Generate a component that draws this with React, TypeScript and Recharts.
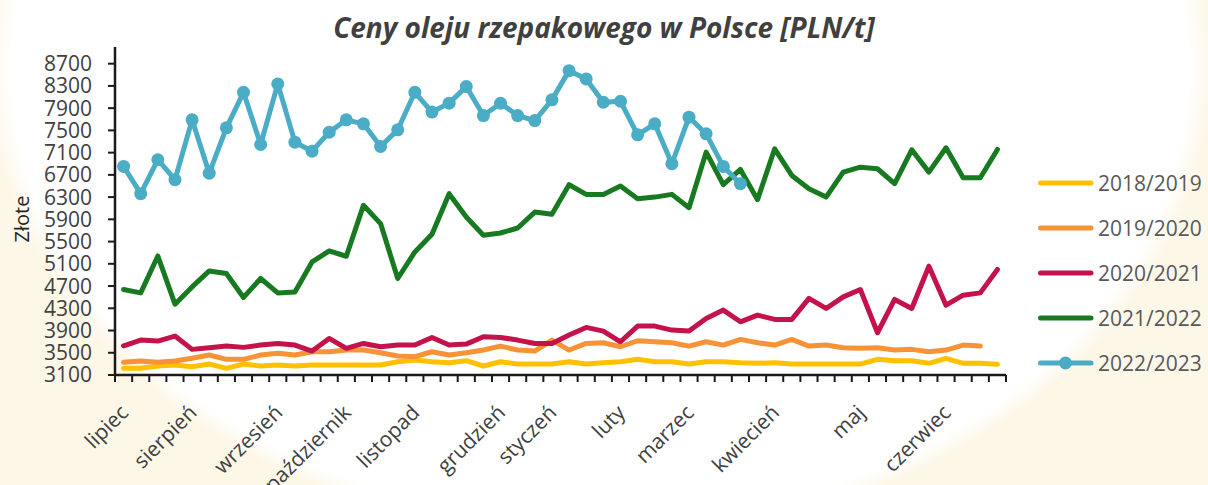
import React from 'react';
import { LineChart, Line, XAxis, YAxis, Legend } from 'recharts';

// weekly prices, marketing year July -> June (52 weeks)
const s2018 = [3220, 3220, 3262, 3280, 3250, 3297, 3220, 3297, 3262, 3280, 3262, 3280, 3280, 3280, 3280, 3280, 3339, 3369, 3339, 3321, 3357, 3262, 3339, 3297, 3297, 3297, 3339, 3297, 3321, 3339, 3382, 3339, 3339, 3297, 3339, 3339, 3321, 3310, 3321, 3297, 3297, 3297, 3297, 3297, 3382, 3357, 3357, 3310, 3400, 3310, 3310, 3292];
const s2019 = [3328, 3351, 3328, 3351, 3400, 3459, 3382, 3382, 3459, 3490, 3459, 3518, 3518, 3549, 3549, 3500, 3441, 3429, 3518, 3459, 3500, 3549, 3620, 3549, 3531, 3728, 3549, 3668, 3680, 3608, 3716, 3698, 3680, 3620, 3698, 3638, 3740, 3680, 3638, 3740, 3620, 3638, 3590, 3579, 3590, 3549, 3561, 3518, 3549, 3638, 3620];
const s2020 = [3626, 3728, 3710, 3800, 3561, 3590, 3620, 3597, 3638, 3668, 3638, 3531, 3758, 3579, 3668, 3608, 3638, 3638, 3776, 3638, 3656, 3788, 3776, 3728, 3668, 3668, 3818, 3956, 3890, 3698, 3980, 3980, 3908, 3890, 4118, 4267, 4057, 4177, 4100, 4100, 4477, 4297, 4506, 4638, 3860, 4459, 4297, 5057, 4356, 4536, 4577, 4998];
const s2021 = [4638, 4577, 5241, 4374, 4685, 4972, 4925, 4495, 4836, 4577, 4595, 5134, 5331, 5236, 6152, 5823, 4836, 5313, 5631, 6362, 5942, 5613, 5654, 5744, 6031, 5990, 6523, 6349, 6349, 6498, 6272, 6300, 6349, 6110, 7108, 6523, 6798, 6254, 7169, 6690, 6451, 6300, 6749, 6839, 6810, 6541, 7151, 6749, 7187, 6648, 6648, 7157];
const s2022 = [6852, 6362, 6972, 6613, 7690, 6731, 7546, 8185, 7246, 8336, 7288, 7126, 7467, 7690, 7618, 7211, 7510, 8185, 7830, 7990, 8288, 7767, 7988, 7767, 7677, 8049, 8575, 8426, 8006, 8024, 7420, 7618, 6900, 7737, 7438, 6852, 6541];

const monthLabels = ['lipiec', 'sierpień', 'wrzesień', 'październik', 'listopad', 'grudzień', 'styczeń', 'luty', 'marzec', 'kwiecień', 'maj', 'czerwiec'];
const monthWeeks = [0, 4, 9, 13, 17, 22, 25, 29, 33, 38, 43, 48];
const yTicks = [3100, 3500, 3900, 4300, 4700, 5100, 5500, 5900, 6300, 6700, 7100, 7500, 7900, 8300, 8700];

const WEEKS = 52;
const series = [
  { key: 'y2018', name: '2018/2019', color: '#FFC000', values: s2018 },
  { key: 'y2019', name: '2019/2020', color: '#F79236', values: s2019 },
  { key: 'y2020', name: '2020/2021', color: '#C3134A', values: s2020 },
  { key: 'y2021', name: '2021/2022', color: '#177A20', values: s2021 },
  { key: 'y2022', name: '2022/2023', color: '#4BACC6', values: s2022, markers: true },
];

const data = Array.from({ length: WEEKS }, (_, i) => {
  const row: Record<string, number | undefined> = { week: i + 0.5 };
  series.forEach((s) => { row[s.key] = s.values[i]; });
  return row;
});

const W = 1208;
const H = 485;
const M = { top: 47, right: 202, left: 15, bottom: 0 };
const Y_W = 100;
const PLOT_W = W - M.left - M.right - Y_W;
const HALF_BAND = PLOT_W / WEEKS / 2;
const FONT = '"Open Sans", sans-serif';
const AXIS = '#1a1a1a';

const monthAt: Record<number, string> = {};
monthWeeks.forEach((w, i) => { monthAt[w] = monthLabels[i]; });

const MonthTick = (props: any) => {
  const { x, y, payload } = props;
  const label = monthAt[payload.value];
  if (!label) return <g />;
  return (
    <text
      transform={`translate(${x + HALF_BAND + 6},${y + 30}) rotate(-45)`}
      textAnchor="end"
      fill="#404040"
      fontSize={21}
      fontFamily={FONT}
    >
      {label}
    </text>
  );
};

const renderLegend = (props: any) => {
  const { payload } = props;
  return (
    <div>
      {payload.map((entry: any) => {
        const s = series.find((x) => x.key === entry.dataKey);
        return (
          <div key={entry.value} style={{ display: 'flex', alignItems: 'center', height: 45 }}>
            <svg width={62} height={18}>
              <line x1={4.5} y1={9} x2={55} y2={9} stroke={entry.color} strokeWidth={5} strokeLinecap="round" />
              {s?.markers && <circle cx={29.5} cy={9} r={6.5} fill={entry.color} />}
            </svg>
            <span style={{ fontSize: 21, color: '#595959', fontFamily: FONT }}>{entry.value}</span>
          </div>
        );
      })}
    </div>
  );
};

export default function App() {
  return (
    <div
      style={{
        position: 'absolute',
        left: 0,
        top: 0,
        width: W,
        height: H,
        overflow: 'hidden',
        fontFamily: FONT,
        background: 'radial-gradient(ellipse 612px 472px at 600px 68px, #ffffff 0%, #ffffff 96%, #fdf7e8 100%)',
      }}
    >
      <div
        style={{
          position: 'absolute',
          top: 8,
          left: 0,
          width: W,
          textAlign: 'center',
          fontSize: 28,
          fontWeight: 700,
          fontStyle: 'italic',
          color: '#404040',
        }}
      >
        Ceny oleju rzepakowego w Polsce [PLN/t]
      </div>
      <div
        style={{
          position: 'absolute',
          left: 21,
          top: 219,
          transform: 'translate(-50%, -50%) rotate(-90deg)',
          fontSize: 20,
          color: '#262626',
          whiteSpace: 'nowrap',
        }}
      >
        Złote
      </div>
      <LineChart width={W} height={H} data={data} margin={M}>
        <XAxis
          dataKey="week"
          type="number"
          domain={[0, WEEKS]}
          ticks={Array.from({ length: WEEKS + 1 }, (_, i) => i)}
          interval={0}
          height={110}
          axisLine={{ stroke: AXIS, strokeWidth: 2.5 }}
          tickLine={{ stroke: AXIS, strokeWidth: 2 }}
          tickSize={7}
          tick={<MonthTick />}
        />
        <YAxis
          type="number"
          domain={[3100, 9000]}
          ticks={yTicks}
          interval={0}
          width={Y_W}
          allowDataOverflow
          axisLine={{ stroke: AXIS, strokeWidth: 2.5 }}
          tickLine={{ stroke: AXIS, strokeWidth: 2 }}
          tickSize={7}
          tickMargin={16}
          tick={{ fill: '#404040', fontSize: 21, fontFamily: FONT }}
        />
        <Legend
          layout="horizontal"
          verticalAlign="middle"
          align="center"
          wrapperStyle={{ left: 1036, top: 160, width: 172 }}
          content={renderLegend}
        />
        {series.map((s) => (
          <Line
            key={s.key}
            type="linear"
            dataKey={s.key}
            name={s.name}
            stroke={s.color}
            strokeWidth={5}
            strokeLinejoin="round"
            strokeLinecap="round"
            dot={s.markers ? { r: 6.5, fill: s.color, stroke: s.color, strokeWidth: 0 } : false}
            activeDot={false}
            isAnimationActive={false}
          />
        ))}
      </LineChart>
    </div>
  );
}
